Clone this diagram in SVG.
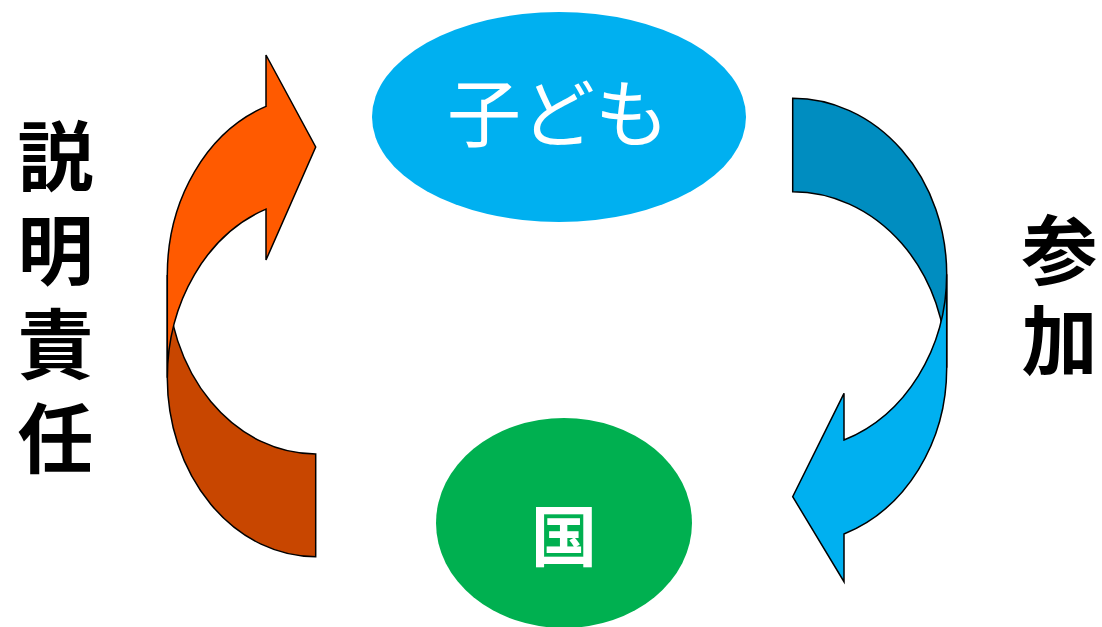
<svg xmlns="http://www.w3.org/2000/svg" width="1102" height="627" viewBox="0 0 1102 627">
  <style>
    .arrow { stroke: #000000; stroke-width: 1.5; stroke-linejoin: miter; }
    .oFront { fill: #FF5A00; }
    .oBack { fill: #C84600; }
    .bFront { fill: #00B0F0; }
    .bBack { fill: #008DC0; }
    .label { font-family: "Noto Sans CJK JP", "Noto Sans", sans-serif; }
    .side { font-family: "Liberation Sans", "Noto Sans CJK JP", sans-serif; font-size: 76px; font-weight: 700; fill: #000000; writing-mode: vertical-rl; text-orientation: upright; }
    .inner { fill: #FFFFFF; text-anchor: middle; }
  </style>
  <rect width="1102" height="627" fill="#FFFFFF"/>

  <g id="connectors">
    <g id="arrow-accountability">
      <path class="arrow oBack" d="M 315.7,454 A 148.4 179 0 0 1 167.3,275 L 167.3,377.7 A 148.4 179 0 0 0 315.7,556.7 Z"/>
      <path class="arrow oFront" d="M 167.3,275 A 148.4 179 0 0 1 266,106.4 L 266,55 L 315.7,147 L 266,260 L 266,209.1 A 148.4 179 0 0 0 167.3,377.7 Z"/>
    </g>
    <g id="arrow-participation">
      <path class="arrow bBack" d="M 792.7,98.3 A 154 176 0 0 1 946.7,274.3 L 946.7,367.8 A 154 176 0 0 0 792.7,191.7 Z"/>
      <path class="arrow bFront" d="M 946.7,274.3 L 946.7,367.8 A 154 176 0 0 1 844,534 L 844,581.7 L 792.7,496.7 L 844,393.3 L 844,440 A 154 176 0 0 0 946.7,274.3 Z"/>
    </g>
  </g>

  <g id="node-children">
    <ellipse cx="559" cy="117" rx="187" ry="105" fill="#00B0F0"/>
    <text class="label inner" x="558" y="141" font-size="74">子ども</text>
  </g>

  <g id="node-country">
    <ellipse cx="564" cy="523" rx="128" ry="105" fill="#00B050"/>
    <text class="label inner" x="564" y="561" font-size="66" font-weight="700">国</text>
  </g>

  <g id="label-accountability">
    <text class="side" x="49" y="118.5" letter-spacing="18">説明責任</text>
  </g>

  <g id="label-participation">
    <text class="side" x="1053" y="212" letter-spacing="14">参加</text>
  </g>
</svg>
